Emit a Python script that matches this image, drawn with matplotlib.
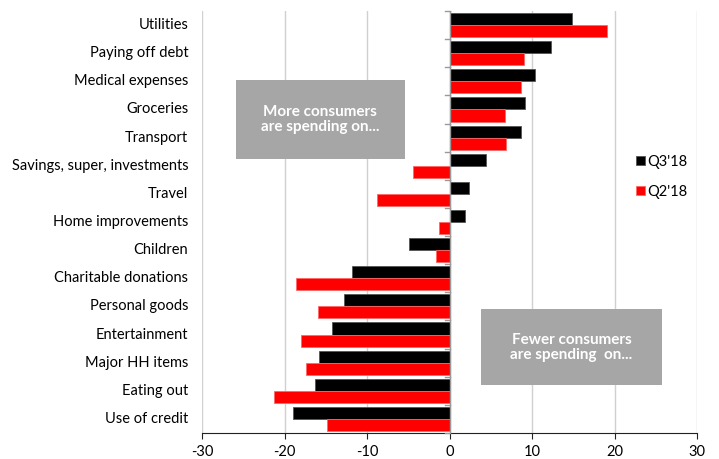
import matplotlib
matplotlib.use("Agg")
import matplotlib.pyplot as plt
import numpy as np
from matplotlib.patches import Rectangle

categories = ["Utilities", "Paying off debt", "Medical expenses", "Groceries", "Transport",
              "Savings, super, investments", "Travel", "Home improvements", "Children",
              "Charitable donations", "Personal goods", "Entertainment", "Major HH items",
              "Eating out", "Use of credit"]
q3_18 = [14.9, 12.3, 10.4, 9.1, 8.65, 4.4, 2.4, 1.9, -4.85, -11.8, -12.8, -14.3, -15.8, -16.3, -19.0]
q2_18 = [19.1, 9.0, 8.65, 6.7, 6.9, -4.4, -8.8, -1.3, -1.6, -18.6, -16.0, -18.0, -17.4, -21.3, -14.8]
xticks = [-30, -20, -10, 0, 10, 20, 30]

plt.rcParams['font.family'] = ['Lato', 'DejaVu Sans']

fig = plt.figure(figsize=(7.19, 4.59), dpi=100)
ax = fig.add_axes([202/719, 1-433/459, (697-202)/719, (433-11)/459])

n = len(categories)
y = np.arange(n)
h = 0.43
ax.barh(y - h/2, q3_18, height=h, color='black', edgecolor='#555555', linewidth=0.6, label="Q3'18", zorder=3)
ax.barh(y + h/2, q2_18, height=h, color='#ff0000', edgecolor='#ff6666', linewidth=0.6, label="Q2'18", zorder=3)

ax.set_xlim(-30, 30)
ax.set_ylim(n - 0.5, -0.5)
ax.set_xticks(xticks)
ax.set_xticklabels([str(v) for v in xticks], fontsize=10.5)
ax.set_yticks([])
for i, c in enumerate(categories):
    ax.text(-0.028, i, c, transform=ax.get_yaxis_transform(), ha='right', va='center', fontsize=10.5)

ax.grid(axis='x', color='#d0d0d0', linewidth=1, zorder=0)
for s in ['top', 'right', 'left']:
    ax.spines[s].set_visible(False)
ax.spines['bottom'].set_color('#222222')
ax.tick_params(axis='x', length=4, color='#222222', pad=5)

# vertical axis at zero with small ticks
ax.axvline(0, color='#999999', linewidth=1, zorder=4)
for b in np.arange(-0.5, n, 1.0):
    ax.plot([-0.5, 0], [b, b], color='#999999', linewidth=1, zorder=4, clip_on=False)

# annotation boxes
ax.add_patch(Rectangle((-25.9, 1.95), 20.5, 2.8, facecolor='#a6a6a6', edgecolor='none', zorder=5))
ax.text(-15.65, 3.35, "More consumers\nare spending on...", ha='center', va='center',
        color='white', fontsize=11, fontweight='bold', zorder=6, linespacing=1.1)
ax.add_patch(Rectangle((3.85, 10.1), 21.85, 2.7, facecolor='#a6a6a6', edgecolor='none', zorder=5))
ax.text(14.8, 11.45, "Fewer consumers\nare spending  on...", ha='center', va='center',
        color='white', fontsize=11, fontweight='bold', zorder=6, linespacing=1.1)

leg = ax.legend(loc='upper left', bbox_to_anchor=(0.85, 0.69), frameon=False, fontsize=10.5,
                handlelength=0.6, handleheight=0.6, handletextpad=0.2, labelspacing=1.1)

fig.savefig("out.png", dpi=100)
